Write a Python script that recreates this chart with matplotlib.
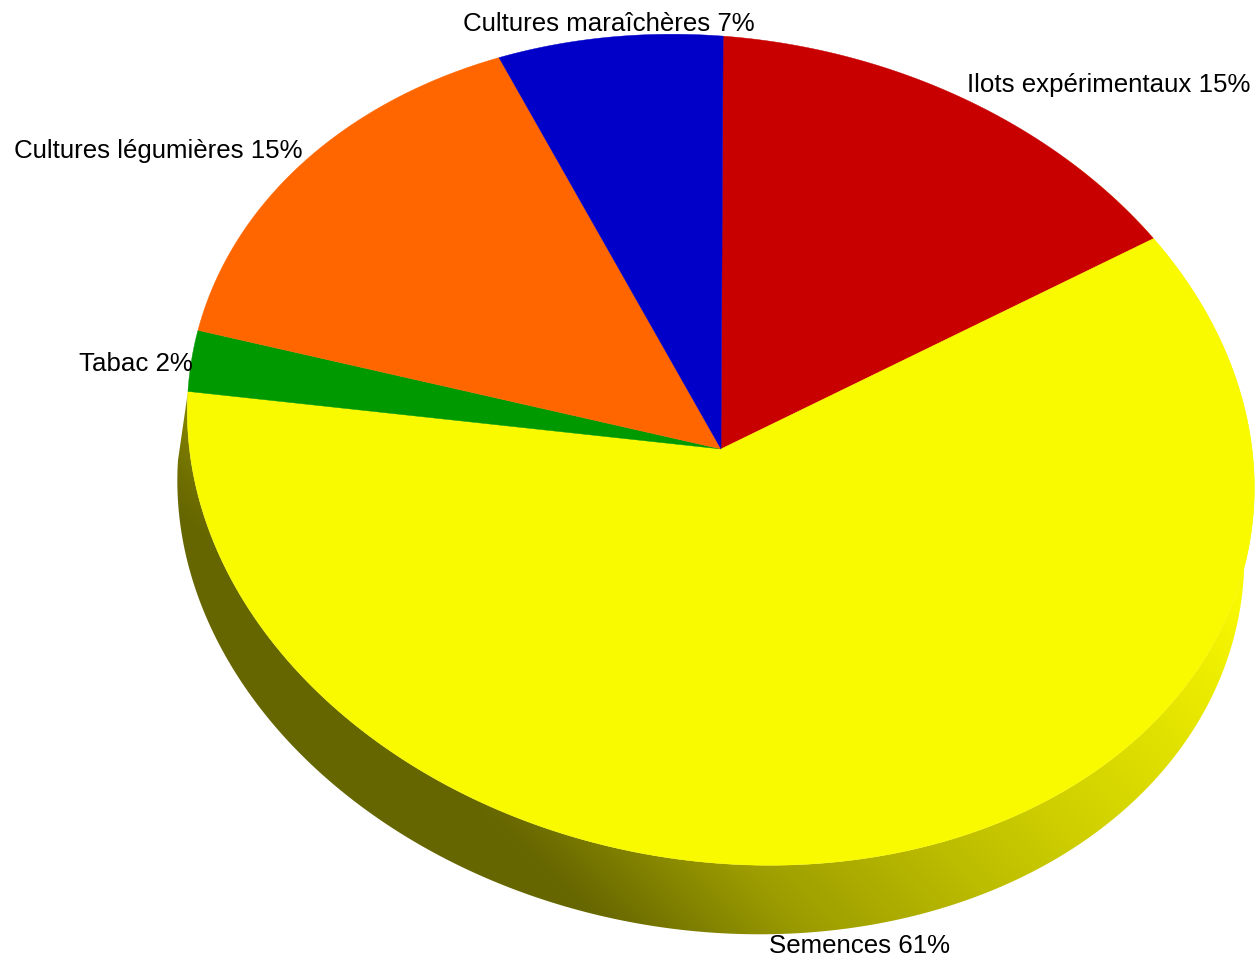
import numpy as np
import matplotlib
matplotlib.use("Agg")
import matplotlib.pyplot as plt
from matplotlib.patches import Polygon

plt.rcParams['font.family'] = ['Liberation Sans', 'DejaVu Sans']

# ------------------------------
# Data
# ------------------------------
labels = ["Ilots expérimentaux", "Semences", "Tabac", "Cultures légumières", "Cultures maraîchères"]
values = [15.0, 60.7, 2.4, 15.0, 6.9]  # labels round these
colors = ["#c80000", "#f9f900", "#009900", "#ff6600", "#0000c8"]

edges = np.concatenate([[0], np.cumsum(values)]) * 360.0 / sum(values)

# ------------------------------
# Perspective of the disc: plane homography, unit disc -> pixels
# fitted on the slice corners, then refined on points read along the rim
# ------------------------------
center_px = (721, 449)
corner_px = [(721, 35), (1155, 240), (188, 390), (199, 332), (500, 58)]
rim_px = [(200, 500), (212, 537), (230, 575), (252, 615), (280, 653), (313, 688), (347, 720),
          (383, 747), (427, 775), (470, 797), (517, 818), (567, 837), (617, 848), (670, 858),
          (750, 865), (950, 838), (1017, 817), (1067, 787), (1117, 753), (1157, 717), (1190, 677),
          (1217, 640), (1237, 603), (1245, 560), (1242, 400), (1233, 370), (1213, 327), (1183, 277),
          (1100, 187), (1057, 152), (1017, 128), (967, 100), (228, 257), (250, 220), (278, 187),
          (307, 160), (343, 130), (383, 105), (427, 82)]


def unit(deg):
    return np.array([np.sin(np.radians(deg)), np.cos(np.radians(deg))])


def fit_h(src, dst):
    rows = []
    for (x, y), (u, v) in zip(src, dst):
        u, v = u / 1000.0, v / 1000.0
        rows.append([x, y, 1, 0, 0, 0, -u * x, -u * y, -u])
        rows.append([0, 0, 0, x, y, 1, -v * x, -v * y, -v])
    h = np.linalg.svd(np.array(rows))[2][-1].reshape(3, 3)
    return np.diag([1000.0, 1000.0, 1.0]) @ h


def apply_h(h, deg):
    xy = unit(np.atleast_1d(deg))
    p = h @ np.vstack([xy, np.ones(xy.shape[1])])
    return (p[:2] / p[2]).T


fixed_src = [tuple(unit(a)) for a in edges[:2]] + [tuple(unit(a)) for a in edges[2:5]] + [(0.0, 0.0)] * 4
fixed_dst = corner_px + [center_px] * 4
H = fit_h(fixed_src, fixed_dst)

dense = np.linspace(0, 360, 3601)
for _ in range(15):
    ring = apply_h(H, dense)
    nearest = [dense[np.argmin(np.sum((ring - p) ** 2, axis=1))] for p in rim_px]
    H = fit_h(fixed_src * 3 + [tuple(unit(a)) for a in nearest], fixed_dst * 3 + rim_px)


def project(deg):
    return apply_h(H, deg)


fig = plt.figure(figsize=(12.59, 9.59), dpi=100)
ax = fig.add_axes([0, 0, 1, 1])
ax.axis("off")

# ------------------------------
# Side of the disc, with the diagonal shading
# ------------------------------
depth = np.array([-10, 69])
side_deg = np.linspace(40, edges[2], 300)
rim = project(side_deg)
side = Polygon(np.vstack([rim, (rim + depth)[::-1]]), closed=True, fc="none", ec="none")
ax.add_patch(side)

gx, gy = np.meshgrid(np.arange(1259) + 0.5, np.arange(959) + 0.5)
t = 0.70 * gx - 0.71 * gy
level = np.interp(t, [-240, -221, -140, -93, 62, 160, 281, 383, 442],
                  [0.41, 0.43, 0.56, 0.63, 0.76, 0.83, 0.90, 0.96, 1.0])
shade = np.dstack([level * 0.976, level * 0.976, np.zeros_like(level)])
img = ax.imshow(shade, extent=(0, 1259, 959, 0), aspect="auto", interpolation="bilinear", zorder=1)
img.set_clip_path(side)
ax.set_xlim(0, 1259)
ax.set_ylim(959, 0)

# ------------------------------
# Top of the disc
# ------------------------------
for i, col in enumerate(colors):
    deg = np.linspace(edges[i], edges[i + 1], 200)
    pts = np.vstack([[center_px], project(deg)])
    ax.fill(pts[:, 0], pts[:, 1], fc=col, ec=col, lw=0.3, zorder=2)

# ------------------------------
# Labels
# ------------------------------
label_pos = [(967, 92), (769, 953), (79, 371), (14, 158), (463, 31)]
for name, val, (x, y) in zip(labels, values, label_pos):
    ax.text(x, y, f"{name} {val:.0f}%", fontsize=18.6, color="black", ha="left", va="baseline", zorder=3)

fig.savefig("out.png", dpi=100)
